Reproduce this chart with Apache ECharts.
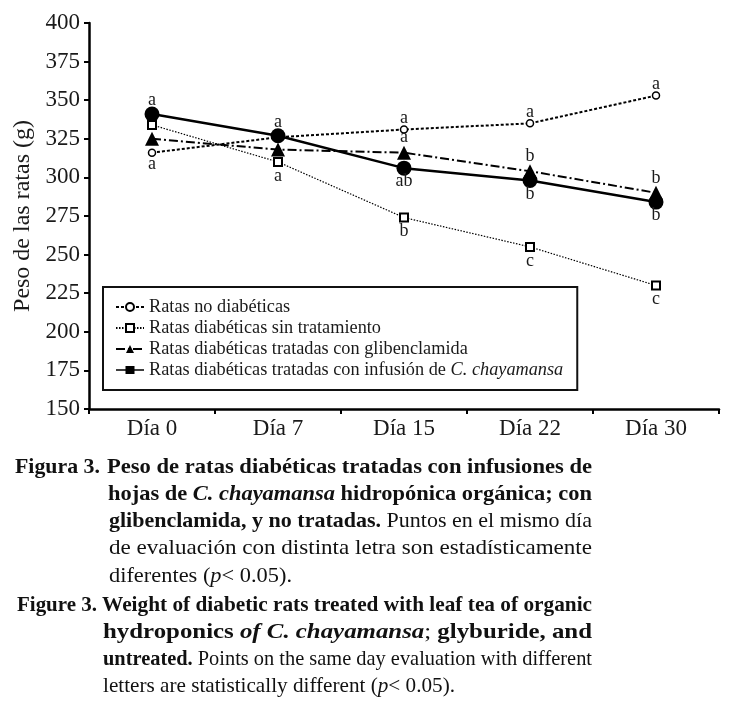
<!DOCTYPE html>
<html><head><meta charset="utf-8">
<script src="https://cdn.jsdelivr.net/npm/echarts@6/dist/echarts.min.js"></script>
<style>html,body{margin:0;padding:0;background:#fff}#c{width:730px;height:710px}</style>
</head><body><div id="c"></div>
<script>
const categories = ['Día 0', 'Día 7', 'Día 15', 'Día 22', 'Día 30'];
const seriesNames = [
  'Ratas no diabéticas',
  'Ratas diabéticas sin tratamiento',
  'Ratas diabéticas tratadas con glibenclamida',
  'Ratas diabéticas tratadas con infusión de C. chayamansa'
];
const noDiabeticas   = [316, 326, 331, 335, 353];
const sinTratamiento = [334, 310, 274, 255, 230];
const glibenclamida  = [325, 318, 316, 304, 290];
const infusion       = [341, 327, 306, 298, 284];

const lettersNoDiab  = ['a', '', 'a', 'a', 'a'];
const posNoDiab      = ['bottom', 'top', 'top', 'top', 'top'];
const lettersSinTrat = ['', 'a', 'b', 'c', 'c'];
const posSinTrat     = ['bottom', 'bottom', 'bottom', 'bottom', 'bottom'];
const lettersGlib    = ['', '', 'a', 'b', 'b'];
const posGlib        = ['top', 'top', 'top', 'top', 'top'];
const lettersInf     = ['a', 'a', 'ab', 'b', 'b'];
const posInf         = ['top', 'top', 'bottom', 'bottom', 'bottom'];

const yMin = 150, yMax = 400, yStep = 25;

const FONT = '"Liberation Serif", "Times New Roman", serif';
const INK = '#1a1a1a';

function withLetters(vals, letters, pos, dist) {
  return vals.map((v, i) => ({
    value: v,
    label: {
      show: !!letters[i], formatter: letters[i], position: pos[i], distance: dist,
      fontFamily: FONT, fontSize: 18, color: INK
    }
  }));
}

const ctx = document.createElement('canvas').getContext('2d');
function fontOf(s, size) {
  return (s === 'b' ? 'bold ' : s === 'i' ? 'italic ' : s === 'bi' ? 'italic bold ' : '') + size + 'px ' + FONT;
}
const capSize = 22;
const rich = {
  b:  {fontFamily: FONT, fontSize: capSize, fontWeight: 'bold', fill: '#111'},
  i:  {fontFamily: FONT, fontSize: capSize, fontStyle: 'italic', fill: '#111'},
  bi: {fontFamily: FONT, fontSize: capSize, fontWeight: 'bold', fontStyle: 'italic', fill: '#111'},
  n:  {fontFamily: FONT, fontSize: capSize, fill: '#111'}
};
function capLine(segs, x, y, w) {
  let total = 0;
  segs.forEach(([s, t]) => { ctx.font = fontOf(s, capSize); total += ctx.measureText(t).width; });
  const text = segs.map(([s, t]) => '{' + s + '|' + t + '}').join('');
  return {
    type: 'text', x: x, y: y, scaleX: w / total, scaleY: 1, originX: 0, originY: 0, silent: true,
    style: {text: text, fontFamily: FONT, fontSize: capSize, verticalAlign: 'middle', align: 'left', rich: rich, fill: '#111'}
  };
}
const captionLines = [
  [[['b', 'Figura 3.']], 15, 467, 85],
  [[['b', 'Peso de ratas diabéticas tratadas con infusiones de']], 107, 467, 485],
  [[['b', 'hojas de '], ['bi', 'C. chayamansa'], ['b', ' hidropónica orgánica; con']], 108, 494, 484],
  [[['b', 'glibenclamida, y no tratadas.'], ['n', ' Puntos en el mismo día']], 109, 521, 483],
  [[['n', 'de evaluación con distinta letra son estadísticamente']], 109, 548, 483],
  [[['n', 'diferentes ('], ['i', 'p'], ['n', '< 0.05).']], 109, 576, 183],
  [[['b', 'Figure 3.']], 17, 605, 80],
  [[['b', 'Weight of diabetic rats treated with leaf tea of organic']], 102, 605, 490],
  [[['b', 'hydroponics '], ['bi', 'of C. chayamansa'], ['n', ';'], ['b', ' glyburide, and']], 103, 632, 489],
  [[['b', 'untreated.'], ['n', ' Points on the same day evaluation with different']], 103, 659, 489],
  [[['n', 'letters are statistically different ('], ['i', 'p'], ['n', '< 0.05).']], 103, 686, 352]
];

const chart = echarts.init(document.getElementById('c'), null, {renderer: 'canvas'});
chart.setOption({
  backgroundColor: '#fff',
  animation: false,
  grid: {left: 89, right: 11, top: 23, bottom: 301, containLabel: false, outerBoundsMode: 'none'},
  legend: {
    orient: 'vertical', left: 103, top: 287,
    padding: [11, 14, 11, 12], itemGap: 3, itemWidth: 28, itemHeight: 10,
    borderColor: '#111', borderWidth: 2, backgroundColor: '#fff',
    data: [
      {name: seriesNames[0]},
      {name: seriesNames[1]},
      {name: seriesNames[2]},
      {name: seriesNames[3], icon: 'path://M0,4.2H28V5.8H0Z M9.5,1H18.5V9H9.5Z', itemStyle: {color: '#000'}}
    ],
    formatter: function (name) {
      if (name === seriesNames[3]) return '{n|Ratas diabéticas tratadas con infusión de }{i|C. chayamansa}';
      return '{n|' + name + '}';
    },
    textStyle: {
      fontFamily: FONT, fontSize: 18.3, color: INK,
      rich: {n: {fontFamily: FONT, fontSize: 18.3, color: INK}, i: {fontFamily: FONT, fontSize: 18.3, fontStyle: 'italic', color: INK}}
    }
  },
  xAxis: {
    type: 'category', data: categories, boundaryGap: true,
    axisLine: {lineStyle: {color: '#000', width: 2.5}},
    axisTick: {show: true, inside: false, length: 5, lineStyle: {color: '#000', width: 2}},
    axisLabel: {fontFamily: FONT, fontSize: 23, color: INK, margin: 8}
  },
  yAxis: {
    type: 'value', min: yMin, max: yMax, interval: yStep,
    name: 'Peso de las ratas (g)', nameLocation: 'middle', nameGap: 52, nameRotate: 90,
    nameTextStyle: {fontFamily: FONT, fontSize: 24, color: INK},
    axisLine: {show: true, lineStyle: {color: '#000', width: 2.5}},
    axisTick: {show: true, inside: false, length: 5, lineStyle: {color: '#000', width: 2}},
    axisLabel: {fontFamily: FONT, fontSize: 23, color: INK, margin: 9},
    splitLine: {show: false}
  },
  series: [
    {
      name: seriesNames[0], type: 'line', data: withLetters(noDiabeticas, lettersNoDiab, posNoDiab, -2),
      symbol: 'circle', symbolSize: 7,
      lineStyle: {color: '#000', width: 2, type: [3, 2]},
      itemStyle: {color: '#fff', borderColor: '#000', borderWidth: 1.5},
      z: 2
    },
    {
      name: seriesNames[1], type: 'line', data: withLetters(sinTratamiento, lettersSinTrat, posSinTrat, 0),
      symbol: 'rect', symbolSize: 8,
      lineStyle: {color: '#000', width: 1.2, type: [1.5, 1.5]},
      itemStyle: {color: '#fff', borderColor: '#000', borderWidth: 2},
      z: 3
    },
    {
      name: seriesNames[2], type: 'line', data: withLetters(glibenclamida, lettersGlib, posGlib, -1),
      symbol: 'triangle', symbolSize: 14,
      lineStyle: {color: '#000', width: 2, type: [9, 3, 2, 3]},
      itemStyle: {color: '#000', borderColor: '#000', borderWidth: 0},
      z: 4
    },
    {
      name: seriesNames[3], type: 'line', data: withLetters(infusion, lettersInf, posInf, -3),
      symbol: 'circle', symbolSize: 15,
      lineStyle: {color: '#000', width: 2.5, type: 'solid'},
      itemStyle: {color: '#000', borderColor: '#000', borderWidth: 0},
      z: 5
    }
  ],
  graphic: captionLines.map(l => capLine(l[0], l[1], l[2], l[3]))
});
</script>
</body></html>
